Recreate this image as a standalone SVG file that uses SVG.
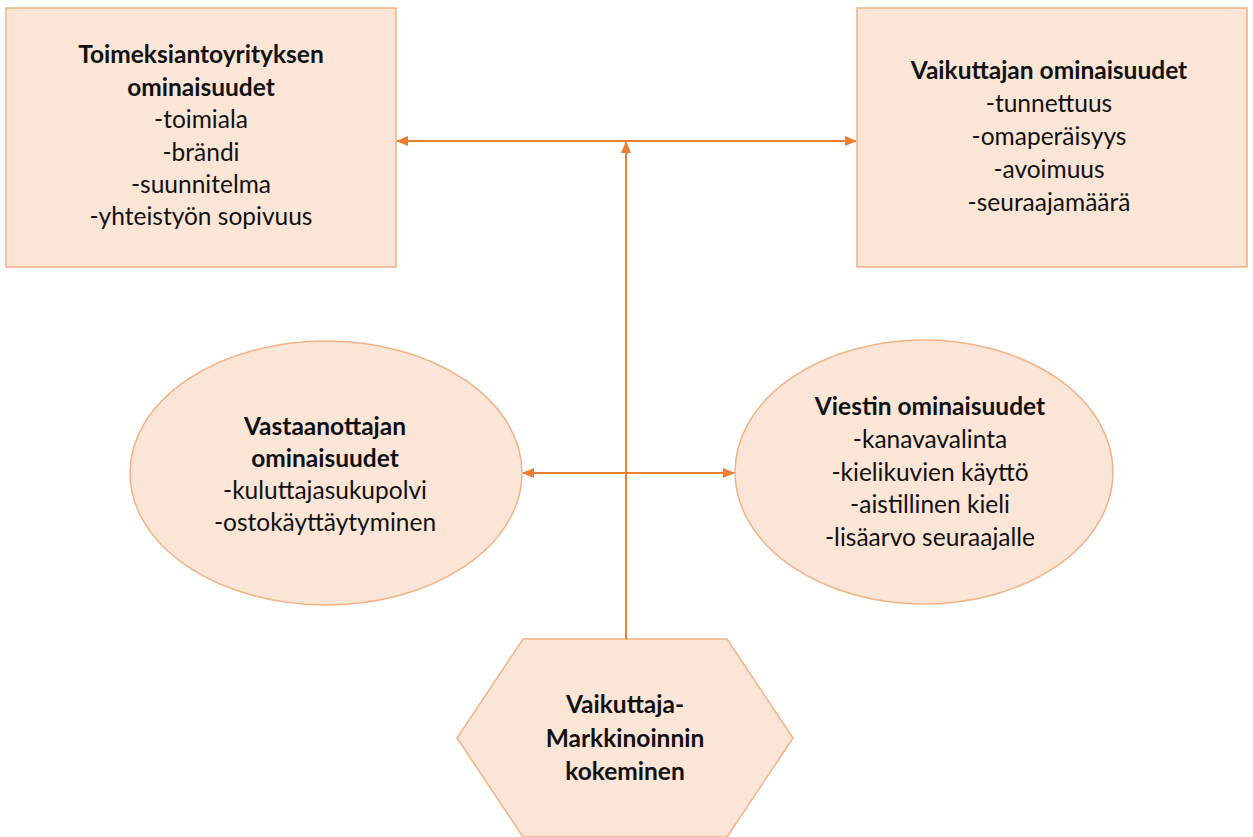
<svg xmlns="http://www.w3.org/2000/svg" width="1253" height="837" viewBox="0 0 1253 837">
<defs>
<style>
.shape{fill:#FBE5D6;stroke:#F4B183;stroke-width:1.5}
.t{font-family:Lato,"Liberation Sans",sans-serif;font-size:24.5px;fill:#111;text-anchor:middle}
.b{font-weight:bold}
.c{stroke:#ED7D31;stroke-width:2;fill:none}
</style>
<marker id="ah" markerWidth="12" markerHeight="10" refX="11" refY="5" orient="auto-start-reverse" markerUnits="userSpaceOnUse">
<path d="M0,0 L12,5 L0,10 Z" fill="#ED7D31"/>
</marker>
</defs>
<rect width="1253" height="837" fill="#fff"/>
<g id="toimeksianto">
<rect class="shape" x="6" y="8" width="390" height="259"/>
<text class="t b" x="201" y="63">Toimeksiantoyrityksen</text>
<text class="t b" x="201" y="96">ominaisuudet</text>
<text class="t" x="201" y="128">-toimiala</text>
<text class="t" x="201" y="161">-brändi</text>
<text class="t" x="201" y="193">-suunnitelma</text>
<text class="t" x="201" y="225">-yhteistyön sopivuus</text>
</g>
<g id="vaikuttaja">
<rect class="shape" x="857" y="8" width="390" height="259"/>
<text class="t b" x="1049" y="79">Vaikuttajan ominaisuudet</text>
<text class="t" x="1049" y="112">-tunnettuus</text>
<text class="t" x="1049" y="145">-omaperäisyys</text>
<text class="t" x="1049" y="178">-avoimuus</text>
<text class="t" x="1049" y="211">-seuraajamäärä</text>
</g>
<g id="vastaanottaja">
<ellipse class="shape" cx="326" cy="473" rx="196" ry="132"/>
<text class="t b" x="325" y="435">Vastaanottajan</text>
<text class="t b" x="325" y="467">ominaisuudet</text>
<text class="t" x="325" y="499">-kuluttajasukupolvi</text>
<text class="t" x="325" y="531">-ostokäyttäytyminen</text>
</g>
<g id="viesti">
<ellipse class="shape" cx="924" cy="472" rx="189" ry="132"/>
<text class="t b" x="930" y="415">Viestin ominaisuudet</text>
<text class="t" x="930" y="448">-kanavavalinta</text>
<text class="t" x="930" y="481">-kielikuvien käyttö</text>
<text class="t" x="930" y="513">-aistillinen kieli</text>
<text class="t" x="930" y="546">-lisäarvo seuraajalle</text>
</g>
<g id="kokeminen">
<polygon class="shape" points="523,639 727,639 793,738 727,837 523,837 457,738"/>
<text class="t b" x="625" y="713">Vaikuttaja-</text>
<text class="t b" x="625" y="747">Markkinoinnin</text>
<text class="t b" x="625" y="780">kokeminen</text>
</g>
<g id="connectors">
<line class="c" x1="397" y1="141" x2="856" y2="141" marker-start="url(#ah)" marker-end="url(#ah)"/>
<line class="c" x1="626" y1="639" x2="626" y2="142" marker-end="url(#ah)"/>
<line class="c" x1="523" y1="473" x2="734" y2="473" marker-start="url(#ah)" marker-end="url(#ah)"/>
</g>
</svg>
